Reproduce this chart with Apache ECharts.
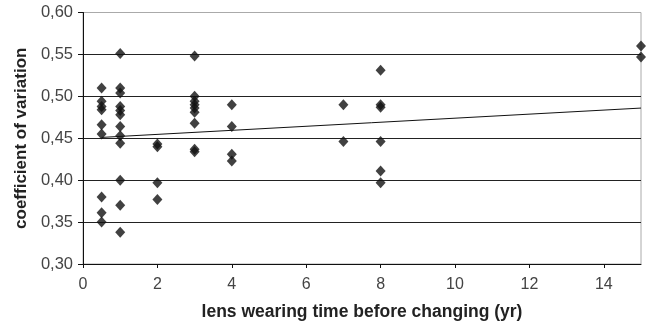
<!DOCTYPE html>
<html>
<head>
<meta charset="utf-8">
<script src="https://cdn.jsdelivr.net/npm/echarts@6/dist/echarts.min.js"></script>
<style>
html,body{margin:0;padding:0;background:#fff;}
#chart{width:647px;height:326px;}
</style>
</head>
<body>
<div id="chart"></div>
<script>
// Data
const xValues = [
  0.5,0.5,0.5,0.5,0.5,0.5,0.5,0.5,0.5,
  1,1,1,1,1,1,1,1,1,1,1,1,
  2,2,2,2,
  3,3,3,3,3,3,3,3,3,
  4,4,4,4,
  7,7,
  8,8,8,8,8,8,
  15,15
];
const yValues = [
  0.510,0.494,0.488,0.484,0.466,0.455,0.380,0.361,0.350,
  0.551,0.510,0.504,0.488,0.483,0.478,0.464,0.453,0.444,0.400,0.370,0.338,
  0.443,0.440,0.397,0.377,
  0.548,0.500,0.494,0.490,0.486,0.481,0.468,0.437,0.434,
  0.490,0.464,0.431,0.423,
  0.490,0.446,
  0.531,0.490,0.487,0.446,0.411,0.397,
  0.560,0.547
];
const trendX = [0.5, 15];
const trendY = [0.451, 0.486];
const xTicks = [0,2,4,6,8,10,12,14];
const yTicks = ['0,30','0,35','0,40','0,45','0,50','0,55','0,60'];

const points = xValues.map((x,i)=>[x,yValues[i]]);
const trend = trendX.map((x,i)=>[x,trendY[i]]);

const chart = echarts.init(document.getElementById('chart'), null, {renderer:'canvas'});
chart.setOption({
  animation:false,
  backgroundColor:'#fff',
  grid:{left:83,right:6,top:12.5,bottom:62,show:true,borderColor:'#aaa',borderWidth:1,backgroundColor:'transparent'},
  xAxis:{
    type:'value',min:0,max:15,interval:2,
    name:'lens wearing time before changing (yr)',
    nameLocation:'middle',nameGap:39,
    nameTextStyle:{fontFamily:'Liberation Sans',fontWeight:'bold',fontSize:17.5,color:'#222'},
    axisLine:{show:true,lineStyle:{color:'#111',width:1}},
    axisTick:{show:true,length:4,lineStyle:{color:'#111'}},
    axisLabel:{fontFamily:'Liberation Sans',fontSize:16,color:'#444',margin:13,showMaxLabel:false,
      formatter:v=> xTicks.indexOf(v)>=0 ? String(v) : ''},
    splitLine:{show:false}
  },
  yAxis:{
    type:'value',min:0.30,max:0.60,interval:0.05,
    name:'coefficient of variation',
    nameLocation:'middle',nameGap:48,nameRotate:90,
    nameTextStyle:{fontFamily:'Liberation Sans',fontWeight:'bold',fontSize:17,color:'#222'},
    axisLine:{show:true,lineStyle:{color:'#111',width:1}},
    axisTick:{show:true,length:5,lineStyle:{color:'#111'}},
    axisLabel:{fontFamily:'Liberation Sans',fontSize:16.5,color:'#444',margin:10,
      formatter:v=>{const i=Math.round((v-0.30)/0.05);return yTicks[i]||'';}},
    splitLine:{show:true,lineStyle:{color:['#111','#222','#222','#222','#222','#222','#aaa'],width:1}}
  },
  series:[
    {type:'scatter',data:points,symbol:'diamond',symbolSize:[10,11],
     itemStyle:{color:'#111'},z:3},
    {type:'line',data:trend,showSymbol:false,symbol:'none',
     lineStyle:{color:'#111',width:1},z:2}
  ]
});
</script>
</body>
</html>
